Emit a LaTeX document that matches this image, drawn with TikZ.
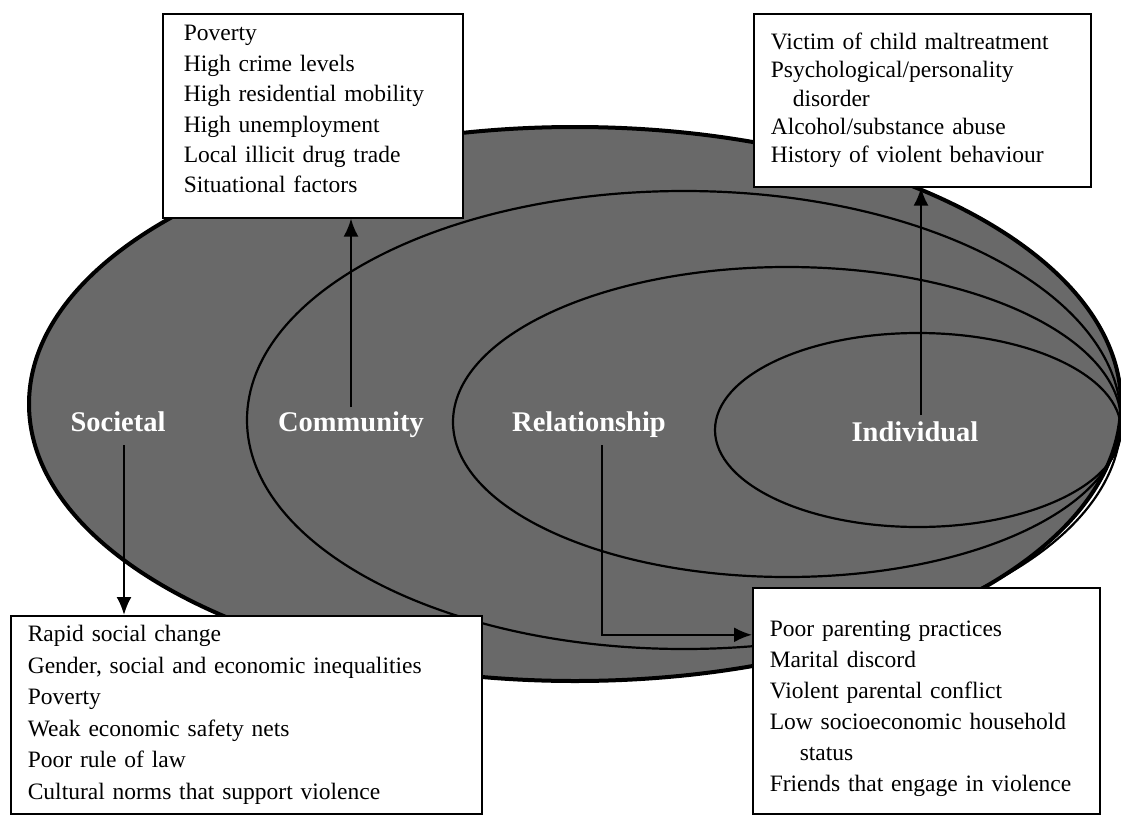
\documentclass[tikz,border=0pt]{standalone}
\usepackage[svgnames]{xcolor}
\usepackage{fontspec}
\setmainfont{Liberation Serif}
\usepackage{tikz}
\usetikzlibrary{arrows.meta}
\colorlet{ring}{DimGray}

\begin{document}
\begin{tikzpicture}[
  x=1pt, y=-1pt,
  level ring/.style={draw, line width=2.2pt},
  level label/.style={text=white, anchor=base, inner sep=0pt,
    font=\bfseries\fontsize{28.5}{28.5}\selectfont},
  factor box/.style={draw, fill=white, line width=1.6pt, anchor=north west,
    align=left, inner ysep=0pt, inner xsep=17pt,
    font=\fontsize{23.5}{31}\selectfont},
  factor arrow/.style={-{Latex[length=18pt,width=15pt]}, line width=2.2pt}
]
\useasboundingbox (0,0) rectangle (1121,816);

% nested levels
\fill[ring] (575,404) ellipse [x radius=546pt, y radius=277pt];
\draw[line width=4pt] (575,404) ellipse [x radius=546pt, y radius=277pt];
\foreach \cx/\cy/\rx/\ry in {684/420/437/229, 787/422/334/155, 918/430/203/97}
  \draw[level ring] (\cx,\cy) ellipse [x radius=\rx pt, y radius=\ry pt];

\node[level label] (soc) at (118,431) {Societal};
\node[level label] (com) at (351,431) {Community};
\node[level label] (rel) at (589,431) {Relationship};
\node[level label] (ind) at (915,441) {Individual};

% risk factors
\node[factor box, text width=258pt, minimum height=204pt, inner xsep=21pt,
  font=\fontsize{23.5}{30.4}\selectfont] (combox) at (162,13) {%
  Poverty\\ High crime levels\\ High residential mobility\\
  High unemployment\\ Local illicit drug trade\\ Situational factors\rule[-13pt]{0pt}{0pt}};
\node[factor box, text width=303pt, minimum height=173pt,
  font=\fontsize{23.5}{28.4}\selectfont] (indbox) at (753,13) {%
  Victim of child maltreatment\\ Psychological/personality\\
  \hspace*{22pt}disorder\\ Alcohol/substance abuse\\ History of violent behaviour};
\node[factor box, text width=437pt, minimum height=198pt,
  font=\fontsize{23.5}{31.6}\selectfont] (socbox) at (10,615) {%
  Rapid social change\\ Gender, social and economic inequalities\\ Poverty\\
  Weak economic safety nets\\ Poor rule of law\\ Cultural norms that support violence};
\node[factor box, text width=313pt, minimum height=226pt] (relbox) at (752,587) {%
  \rule{0pt}{32pt}Poor parenting practices\\ Marital discord\\ Violent parental conflict\\
  Low socioeconomic household\\ \hspace*{30pt}status\\ Friends that engage in violence};

\draw[factor arrow] ([xshift=6pt,yshift=-14pt]soc.south) -- ([xshift=6pt]soc.south |- socbox.north);
\draw[factor arrow] ([yshift=4pt]com.north) -- (com.north |- combox.south);
\draw[factor arrow] ([xshift=6pt,yshift=6pt]ind.north) -- ([xshift=6pt]ind.north |- indbox.south);
\draw[factor arrow] ([xshift=13pt,yshift=-8pt]rel.south) |- ([yshift=66pt]relbox.west);
\end{tikzpicture}
\end{document}
